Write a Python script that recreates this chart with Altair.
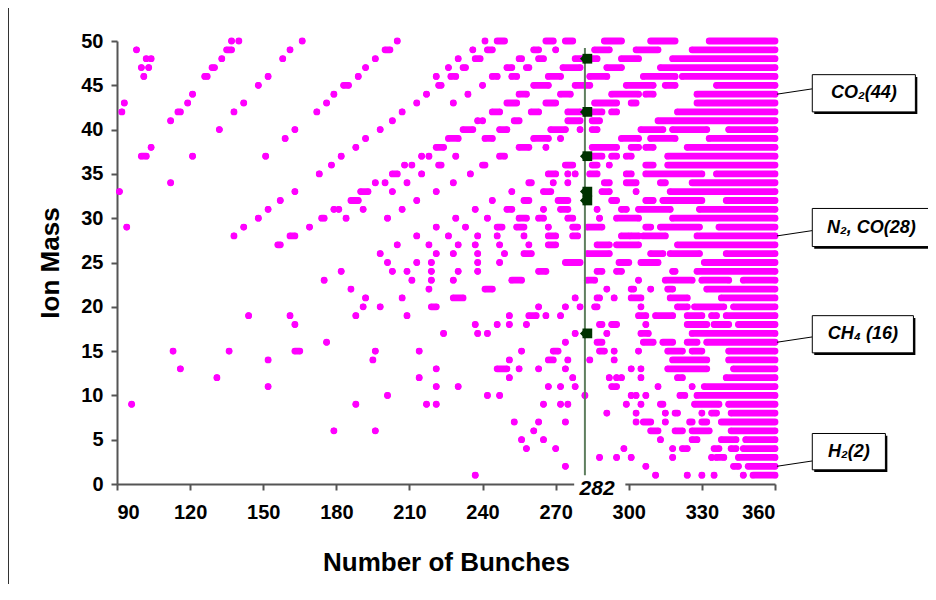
import altair as alt
import pandas as pd

# Ion mass rows (y) and the bunch-number runs (x) where points appear
mass_rows = list(range(50, 0, -1))
row_runs = [
    "137 140 166 205 241 246-249 266-269 274-277 290-297 309-319 333-360",          # 50
    "98 135-137 161 200-202 236 242-244 261-263 270 286-292 303-312 326-360",       # 49
    "102 104 133 158 196 230 237-239 255-256 263-265 278-287 297-304 318-360",      # 48
    "100 103 129-130 192 226 232-233 250-252 258-259 273-280 291-297 313-360",      # 47
    "101 126-127 152 189 221 227-229 244-246 252-254 267-272 284-291 306-319 322-360",  # 46
    "148 183-185 222-223 240 261-267 278-284 299-310 315-319 336-360",              # 45
    "121 179 217 234 255-258 272-276 293-304 307-310 328-360",                      # 44
    "93 119 142 176 213 228 250-254 266-270 286-295 301-303 328-360",               # 43
    "92 115-116 138 172 207 244-247 260-263 275-280 285-289 293-295 320-360",       # 42
    "112 203 238 240 253-255 275-280 285-288 312-360",                              # 41
    "132 163 198 232-236 247-250 268-274 280 285-287 305-314 318-332 341-360",      # 40
    "159 192 226-230 241-244 261-267 272 297-304 309-319 333-360",                  # 39
    "104 188 221-224 255-259 266 285-295 301-304 307-310 324-360",                  # 38
    "100-102 121 151 182 215 218 229 247-249 285-289 293-295 299-301 316-360",      # 37
    "178 208 211 222-223 240-241 274-277 285-287 292 307-310 316-360",              # 36
    "173 203-205 215 235 267-270 275 278 284-287 299-301 307-330 336-360",          # 35
    "112 196 200 209 228 259-260 269 275 290-292 299-303 313-315 326-360",          # 34
    "91 163 190-193 203 221 252 265-268 289-292 303 317-360",                       # 33
    "157 186-189 213 244 257-259 271-275 293-295 307-310 314-330 340-360",          # 32
    "152 179 181 191 207 237 250-252 265 272-275 287 297-299 304-317 329-360",      # 31
    "148 174-175 184 201 229 242 255-258 263-265 275-277 288 295-304 318-360",      # 30
    "94 142 169 221 233 246-248 254-257 267 277-279 283-289 307-309 313-329 337-360",  # 29
    "138 161-163 213 226 238 246 257 267-270 277-279 297-300 301-304 306-315 328-360",  # 28
    "156-157 205 218 230 237 247 259 267-270 287-292 295-304 320-360",              # 27
    "198 221 228 238 249 257-260 283-292 309-314 317-329 340-360",                  # 26
    "201 213 219 238 247 274-280 296-300 305-312 331-360",                          # 25
    "182 203 209 219 230 238 263-266 287-289 295-297 318-319 328-360",              # 24
    "175 211 219 228 252-256 283-286 304 315-326 330-341 347-360",                  # 23
    "186 218 241-244 291 301-302 309 316-318 332-360",                              # 22
    "192 207 228-232 278 287-288 294 301-305 317-324 338-360",                      # 21
    "191 198 219-221 263 274 280 286-287 305 320-324 327-339 343-360",              # 20
    "144 161 188 209 251 259-262 266 272 304-307 311-318 324-330 334-336 340-360",  # 19
    "163 237 246 251 258 288-289 293-295 307 324-332 335-341 345-360",              # 18
    "224 238 242 278 291 305-308 326-360",                                          # 17
    "176 274 287-289 306-310 314-318 324-328 332-360",                              # 16
    "113 136 163-165 196 214 256 269-271 288-290 294 304 316-322 326-330 341-360",  # 15
    "152 195 251 267-269 275 284 294 318-332 341-360",                              # 14
    "116 221 246-250 255 263 274 301 305 316-332 343-360",                          # 13
    "131 214 251 277 292 295 297 305 320-322 340-360",                              # 12
    "152 221 230 267 272 278 293-295 312 326 331-360",                              # 11
    "201 242 247 282 301 303 307 321-323 328-360",                                  # 10
    "96 188 217 221 265 272 275 299 305 313-314 327-337 341-360",                   # 9
    "291 303 315 319-320 330 334-336 342-360",                                      # 8
    "253 263 274 303 306-309 315 325-326 330-332 338-360",                          # 7
    "179 196 261 309-312 319-322 326-333 342-360",                                  # 6
    "256 265 313 326-328 338-344 348-360",                                          # 5
    "258 270 298 318 322-324 335-337 342-344 347-360",                              # 4
    "288 295 301 318 334 336-339 345-360",                                          # 3
    "274 307 343-345 349-360",                                                      # 2
    "237 311 324 330 335 347 351-360",                                              # 1
]

# Reference line at 282 bunches and the highlighted masses on it
ref_bunch = 282
ref_masses = [48, 42, 37, 33, 32, 17]

# Callouts
callout_text = ["CO\u2082(44)", "N\u2082, CO(28)", "CH\u2084 (16)", "H\u2082(2)"]
callout_mass = [44, 28, 16, 2]
box_x0 = [375.3, 375.3, 375.3, 375.3]
box_x1 = [417.6, 423.8, 416.8, 405.3]
box_top = [46.2, 31.1, 19.0, 5.7]
box_bot = [42.0, 26.8, 14.8, 1.6]

x_ticks = [90, 120, 150, 180, 210, 240, 270, 300, 330, 360]
y_ticks = [0, 5, 10, 15, 20, 25, 30, 35, 40, 45, 50]

# ---- build tables ----
recs = []
for m, s in zip(mass_rows, row_runs):
    for tok in s.split():
        if "-" in tok:
            a, b = tok.split("-")
        else:
            a = b = tok
        recs.append({"mass": m, "start": float(a), "end": float(b)})
df = pd.DataFrame(recs)

FONT = "Liberation Sans"
MAG = "#FF00FF"

xs = alt.Scale(domain=[90, 360], nice=False, zero=False)
ys = alt.Scale(domain=[0, 50], nice=False, zero=False)

x_axis = alt.Axis(values=x_ticks, title="Number of Bunches", grid=False,
                  tickSize=6, labelPadding=12, titleY=78, titleBaseline="middle")
y_axis = alt.Axis(values=y_ticks, title="Ion Mass", grid=False,
                  tickSize=6, labelPadding=8, titleX=-67, titleBaseline="middle")

base = alt.Chart(df)
runs = base.mark_rule(color=MAG, strokeWidth=6.8, strokeCap="round").encode(
    x=alt.X("start:Q", scale=xs, axis=x_axis),
    x2="end:Q",
    y=alt.Y("mass:Q", scale=ys, axis=y_axis),
)
dots_a = base.mark_circle(color=MAG, size=38, opacity=1).encode(
    x=alt.X("start:Q", scale=xs), y=alt.Y("mass:Q", scale=ys))
dots_b = base.mark_circle(color=MAG, size=38, opacity=1).encode(
    x=alt.X("end:Q", scale=xs), y=alt.Y("mass:Q", scale=ys))

vline_df = pd.DataFrame({"x": [ref_bunch], "y": [1.0], "y2": [49.2]})
vline = alt.Chart(vline_df).mark_rule(color="#5f7f5f", strokeWidth=2).encode(
    x=alt.X("x:Q", scale=xs), y=alt.Y("y:Q", scale=ys), y2="y2:Q")

mk_df = pd.DataFrame({"mass": ref_masses, "b": [ref_bunch] * len(ref_masses)})
mk_diamond = alt.Chart(mk_df).mark_point(shape="diamond", filled=True, color="#003300",
                                         size=100, opacity=1).encode(
    x=alt.X("b:Q", scale=xs), y=alt.Y("mass:Q", scale=ys))
mk_square = alt.Chart(mk_df).transform_calculate(bs="datum.b + 1.0").mark_point(
    shape="square", filled=True, color="#003300", size=95, opacity=1).encode(
    x=alt.X("bs:Q", scale=xs), y=alt.Y("mass:Q", scale=ys))

# label 282 under the axis, on a white patch
lab_df = pd.DataFrame({"x0": [277.6], "x1": [298.6], "y0": [0.45], "y1": [-2.0],
                       "tx": [287.0], "ty": [-0.55], "t": [str(ref_bunch)]})
lab_bg = alt.Chart(lab_df).mark_rect(color="white").encode(
    x=alt.X("x0:Q", scale=xs), x2="x1:Q", y=alt.Y("y0:Q", scale=ys), y2="y1:Q")
lab_txt = alt.Chart(lab_df).mark_text(font=FONT, fontSize=21, fontWeight="bold",
                                      fontStyle="italic", color="black",
                                      baseline="middle", align="center").encode(
    x=alt.X("tx:Q", scale=xs), y=alt.Y("ty:Q", scale=ys), text="t:N")

co = pd.DataFrame({"t": callout_text, "m": callout_mass, "x0": box_x0, "x1": box_x1,
                   "top": box_top, "bot": box_bot})
co["lx"] = 360.8
co["ly2"] = co["m"] + 0.6
co["tx"] = (co["x0"] + co["x1"]) / 2
co["ty"] = (co["top"] + co["bot"]) / 2
co["sx0"] = co["x0"] + 0.8
co["sx1"] = co["x1"] + 0.8
co["stop"] = co["top"] - 0.25
co["sbot"] = co["bot"] - 0.25

leaders = alt.Chart(co).mark_rule(color="black", strokeWidth=1).encode(
    x=alt.X("lx:Q", scale=xs), x2="x0:Q", y=alt.Y("m:Q", scale=ys), y2="ly2:Q")
shadow = alt.Chart(co).mark_rect(color="black").encode(
    x=alt.X("sx0:Q", scale=xs), x2="sx1:Q", y=alt.Y("stop:Q", scale=ys), y2="sbot:Q")
boxes = alt.Chart(co).mark_rect(fill="white", stroke="black", strokeWidth=1).encode(
    x=alt.X("x0:Q", scale=xs), x2="x1:Q", y=alt.Y("top:Q", scale=ys), y2="bot:Q")
texts = alt.Chart(co).mark_text(font=FONT, fontSize=18, fontWeight="bold",
                                fontStyle="italic", color="black",
                                baseline="middle", align="center").encode(
    x=alt.X("tx:Q", scale=xs), y=alt.Y("ty:Q", scale=ys), text="t:N")

# outer frame line on the left side of the figure
frame = alt.Chart(pd.DataFrame({"k": [0]})).mark_rule(color="#333333", strokeWidth=1).encode(
    x=alt.value(-108.5), y=alt.value(-33), y2=alt.value(543))

chart = alt.layer(
    runs, dots_a, dots_b, vline, mk_diamond, mk_square,
    lab_bg, lab_txt, leaders, shadow, boxes, texts, frame,
).properties(
    width=658, height=443,
    padding={"left": 109, "top": 33, "right": 153, "bottom": 100},
    autosize=alt.AutoSizeParams(type="none"),
).configure_view(stroke=None).configure_axis(
    labelFont=FONT, labelFontSize=20, labelFontWeight="bold", labelColor="black",
    titleFont=FONT, titleFontSize=26, titleFontWeight="bold", titleColor="black",
    domainColor="#555555", tickColor="#555555", domainWidth=2, tickWidth=2,
)

chart.save("out.html", embed_options={"renderer": "svg", "actions": False})
